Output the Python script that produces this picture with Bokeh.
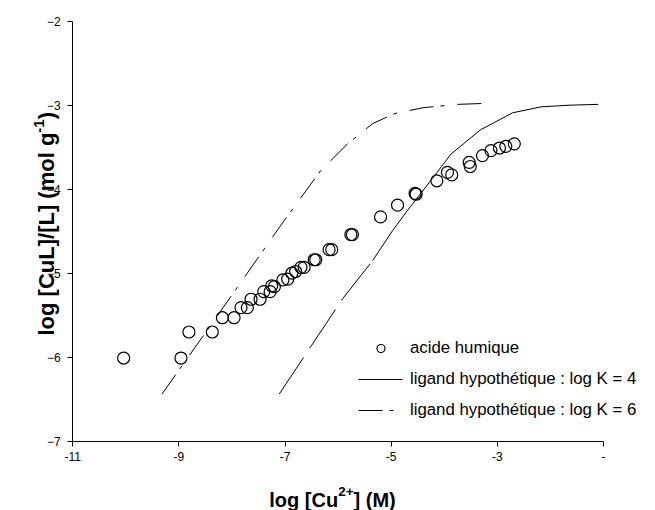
import math
from bokeh.plotting import figure
from bokeh.models import Label, Legend, LegendItem, FixedTicker, Range1d
from bokeh.embed import file_html
from bokeh.resources import INLINE

# ---------------- data ----------------
hum_x = [-10.04, -8.96, -8.81, -8.37, -8.18, -7.96, -7.83, -7.71, -7.64, -7.47,
         -7.40, -7.28, -7.25, -7.20, -7.04, -6.95, -6.87, -6.80, -6.70, -6.64,
         -6.45, -6.42, -6.17, -6.12, -5.76, -5.73, -5.20, -4.88, -4.55, -4.53,
         -4.14, -3.94, -3.86, -3.53, -3.51, -3.28, -3.12, -2.96, -2.84, -2.68]
hum_y = [-6.01, -6.01, -5.70, -5.70, -5.53, -5.53, -5.41, -5.41, -5.31, -5.31,
         -5.22, -5.22, -5.15, -5.16, -5.08, -5.07, -5.00, -4.98, -4.93, -4.93,
         -4.84, -4.84, -4.72, -4.72, -4.54, -4.54, -4.33, -4.19, -4.05, -4.06,
         -3.90, -3.80, -3.83, -3.68, -3.73, -3.60, -3.54, -3.51, -3.49, -3.46]

k4_x = [-7.11, -6.51, -5.91, -5.35, -4.97, -4.69, -4.22, -3.87, -3.31, -2.71, -2.18, -1.65, -1.10]
k4_y = [-6.44, -5.87, -5.30, -4.85, -4.49, -4.25, -3.87, -3.58, -3.29, -3.09, -3.02, -3.00, -2.99]

k6_x = [-9.32, -8.40, -7.39, -7.08, -6.33, -5.82, -5.35, -4.94, -4.40, -3.75, -3.30]
k6_y = [-6.44, -5.62, -4.71, -4.43, -3.78, -3.46, -3.22, -3.10, -3.03, -2.99, -2.98]

x_ticks = [-11, -9, -7, -5, -3, -1]
x_tick_labels = ["-11", "-9", "-7", "-5", "-3", "-"]
y_ticks = [-7, -6, -5, -4, -3, -2]

series_names = ["acide humique",
                "ligand hypothétique : log K = 4",
                "ligand hypothétique : log K = 6"]

# ---------------- layout (pixels) ----------------
W_PX, H_PX = 655, 510
AX_L, AX_R = 72.2, 603.0      # pixel x of x=-11 and x=-1
AX_T, AX_B = 20.7, 440.7      # pixel y of y=-2 and y=-7
sx = (AX_R - AX_L) / (x_ticks[-1] - x_ticks[0])
sy = (AX_B - AX_T) / (y_ticks[-1] - y_ticks[0])
x_range = Range1d(x_ticks[0] - AX_L / sx, x_ticks[-1] + (W_PX - AX_R) / sx)
y_range = Range1d(y_ticks[0] - (H_PX - AX_B) / sy, y_ticks[-1] + AX_T / sy)

FONT = "Liberation Sans"
p = figure(width=W_PX, height=H_PX, output_backend="svg", toolbar_location=None,
           x_range=x_range, y_range=y_range,
           min_border_left=0, min_border_right=0, min_border_top=0, min_border_bottom=0)
p.xgrid.visible = False
p.ygrid.visible = False
p.outline_line_color = None
p.background_fill_color = "white"
p.border_fill_color = "white"

p.xaxis.ticker = FixedTicker(ticks=x_ticks)
p.yaxis.ticker = FixedTicker(ticks=y_ticks)
p.xaxis.major_label_overrides = {t: l for t, l in zip(x_ticks, x_tick_labels)}
p.xaxis.fixed_location = y_ticks[0]
p.yaxis.fixed_location = x_ticks[0]
p.xaxis.bounds = (x_ticks[0], x_ticks[-1])
p.yaxis.bounds = (y_ticks[0], y_ticks[-1])
for ax in (p.xaxis[0], p.yaxis[0]):
    ax.axis_line_color = "black"
    ax.axis_line_width = 1
    ax.major_tick_line_color = "black"
    ax.major_tick_out = 5
    ax.major_tick_in = 0
    ax.minor_tick_line_color = None
    ax.major_label_text_font = FONT
    ax.major_label_text_font_size = "12px"
    ax.major_label_text_color = "black"
p.xaxis.major_label_standoff = 6
p.yaxis.major_label_standoff = 7

# ---------------- glyphs ----------------
r_k6 = p.line(k6_x, k6_y, line_color="black", line_width=1, line_dash="24 7 4 13")
r_k4 = p.segment(x0=k4_x[:-1], y0=k4_y[:-1], x1=k4_x[1:], y1=k4_y[1:],
                 line_color="black", line_width=1, line_dash="44 11")
r_hum = p.scatter(hum_x, hum_y, marker="circle", size=12, fill_color=None,
                  line_color="black", line_width=1.2)

# legend, bottom-left corner given relative to the frame's bottom-left
legend = Legend(items=[LegendItem(label=series_names[0], renderers=[r_hum]),
                       LegendItem(label=series_names[1], renderers=[r_k4]),
                       LegendItem(label=series_names[2], renderers=[r_k6])],
                location=(358, H_PX - 420))
legend.border_line_color = None
legend.background_fill_alpha = 0
legend.padding = 0
legend.margin = 0
legend.glyph_width = 45
legend.glyph_height = 20
legend.spacing = 11
legend.label_standoff = 7
legend.label_text_font = FONT
legend.label_text_font_size = "16.8px"
legend.label_text_color = "black"
p.add_layout(legend, "center")

# ---------------- axis titles with superscripts ----------------
BOLD_W = {'l': 278, 'o': 611, 'g': 611, ' ': 278, '[': 333, 'C': 722, 'u': 611, ']': 333,
          '(': 333, 'M': 833, ')': 333, '2': 556, '+': 584, 'L': 611, '/': 278, 'm': 889,
          '-': 333, '1': 556}


def tw(s, size):
    return sum(BOLD_W.get(c, 600) for c in s) / 1000.0 * size


def lab(text, x_off, y_off, size, angle=0.0):
    p.add_layout(Label(x=x_ticks[0], y=y_ticks[0], x_offset=x_off, y_offset=y_off, text=text,
                       text_font=FONT, text_font_style="bold", text_font_size=f"{size}px",
                       text_color="black", text_baseline="alphabetic", text_align="left",
                       angle=angle))


# x title: "log [Cu2+] (M)"
fx, fxs = 20, 13.5
xa, xb, xc = "log [Cu", "2+", "] (M)"
Wt = tw(xa, fx) + tw(xb, fxs) + tw(xc, fx)
x0 = (332 - AX_L) - Wt / 2.0
base = -(499 - AX_B)
lab(xa, x0, base, fx)
lab(xb, x0 + tw(xa, fx), base + 8, fxs)
lab(xc, x0 + tw(xa, fx) + tw(xb, fxs), base, fx)

# y title: "log [CuL]/[L] (mol g-1)" rotated
fy, fys = 22, 15
ya, yb, yc = "log [CuL]/[L] (mol g", "-1", ")"
yb0 = AX_B - 335
xbase = 46 - AX_L
lab(ya, xbase, yb0, fy, math.pi / 2)
lab(yb, xbase - 8, yb0 + tw(ya, fy), fys, math.pi / 2)
lab(yc, xbase, yb0 + tw(ya, fy) + tw(yb, fys), fy, math.pi / 2)

open("out.html", "w").write(file_html(p, INLINE))
